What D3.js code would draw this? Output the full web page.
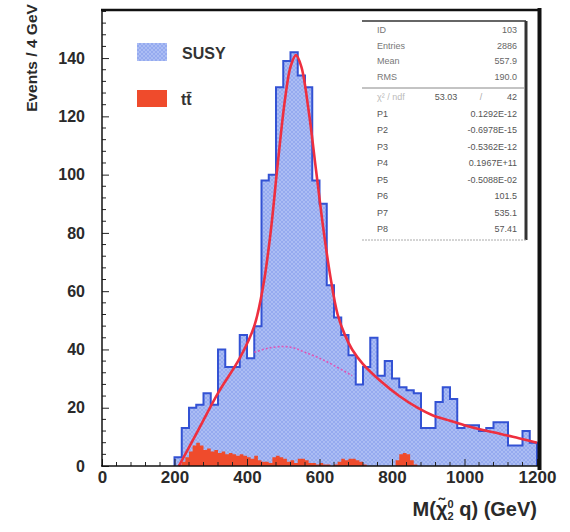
<!DOCTYPE html>
<html>
<head>
<meta charset="utf-8">
<script src="https://cdn.jsdelivr.net/npm/d3@7"></script>
<style>
  html, body { margin: 0; padding: 0; background: #ffffff; }
  svg { display: block; }
  text { font-family: "Liberation Sans", Arial, Helvetica, sans-serif; }
</style>
</head>
<body>
<svg id="chart" width="570" height="532"></svg>
<script>
// ---------------- data ----------------
// SUSY histogram: 20 GeV bins starting at 200 GeV
const susyBinStart = 200;
const susyBinWidth = 20;
const susyValues = [3, 13, 20, 21, 25, 21, 40, 34, 34, 45,
                    37, 48, 98, 100, 130, 139, 142, 134, 130, 98,
                    90, 62, 51, 45, 38, 28, 34, 44, 31, 36,
                    30, 27, 26, 25, 13, 13, 22, 27, 23, 13,
                    14, 14, 12, 13, 15, 15, 7, 7, 12, 8];
// ttbar histogram: 10 GeV bins starting at 200 GeV
const ttBinStart = 200;
const ttBinWidth = 10;
const ttValues = [0, 0.5, 1.5, 3, 5, 7, 8, 7, 5.5, 6,
                  5, 5.5, 4.5, 5, 4, 4.5, 4, 3.5, 4, 3.5,
                  3, 2.5, 3.5, 2, 1.5, 1.5, 1, 3, 3.5, 3,
                  2.5, 1.5, 2, 1, 2.5, 2.5, 2, 1, 1, 0.5,
                  1, 0.5, 0.5, 0, 0.5, 1.5, 2.5, 2, 2.5, 2.5,
                  2, 1.5, 0.5, 0, 0, 0, 0, 0, 0, 0,
                  0, 2, 4, 4.5, 4, 2, 0.5, 0];
// fit curve (total)
const fitX = [212, 260, 320, 380, 420, 445, 465, 485, 505, 520, 535, 550, 570, 590, 610, 630, 650, 670, 690, 720, 770, 820, 870, 910, 960, 1000, 1045, 1100, 1150, 1200];
const fitY = [0, 11, 25, 37, 48, 62, 80, 104, 126, 137, 141, 137, 122, 102, 82, 65, 52, 45, 40, 35, 29, 24, 20, 17.5, 15.5, 14, 12.5, 11, 9.5, 8];
// background component (dotted)
const bgX = [420, 460, 500, 530, 560, 600, 640, 690];
const bgY = [39, 40.5, 41, 40.5, 39, 37, 34.5, 31];

const xTicks = [0, 200, 400, 600, 800, 1000, 1200];
const yTicks = [0, 20, 40, 60, 80, 100, 120, 140];

const statLabels = ["ID", "Entries", "Mean", "RMS"];
const statValues = ["103", "2886", "557.9", "190.0"];
const chiLabel = "\u03C7\u00B2 / ndf";
const chiValues = ["53.03", "/", "42"];
const parLabels = ["P1", "P2", "P3", "P4", "P5", "P6", "P7", "P8"];
const parValues = ["0.1292E-12", "-0.6978E-15", "-0.5362E-12", "0.1967E+11", "-0.5088E-02", "101.5", "535.1", "57.41"];

const legendNames = ["SUSY", "tt\u0304"];

// ---------------- drawing ----------------
const svg = d3.select("#chart");
const x = d3.scaleLinear().domain([0, 1200]).range([102, 537]);
const y = d3.scaleLinear().domain([0, 156.5]).range([466, 10]);

const defs = svg.append("defs");
const pat = defs.append("pattern").attr("id", "hatch")
  .attr("patternUnits", "userSpaceOnUse").attr("width", 4).attr("height", 4);
pat.append("rect").attr("width", 4).attr("height", 4).attr("fill", "#abbdf4");
pat.append("path").attr("d", "M0,4 L4,0 M0,0 L4,4").attr("stroke", "#8fa5ee").attr("stroke-width", 0.8);

function stepPoints(start, width, vals) {
  const pts = [[start, 0]];
  vals.forEach((v, i) => {
    pts.push([start + i * width, v]);
    pts.push([start + (i + 1) * width, v]);
  });
  pts.push([start + vals.length * width, 0]);
  return pts;
}
const lineXY = d3.line().x(d => x(d[0])).y(d => y(d[1]));

const susyPts = stepPoints(susyBinStart, susyBinWidth, susyValues);
svg.append("path").attr("d", lineXY(susyPts) + "Z")
  .attr("fill", "url(#hatch)").attr("stroke", "none");

const ttPts = stepPoints(ttBinStart, ttBinWidth, ttValues);
svg.append("path").attr("d", lineXY(ttPts) + "Z")
  .attr("fill", "#ef4b2c").attr("stroke", "none");

svg.append("path").attr("d", lineXY(susyPts))
  .attr("fill", "none").attr("stroke", "#3352d4").attr("stroke-width", 2)
  .attr("stroke-linejoin", "miter");

const curve = d3.line().x(d => x(d[0])).y(d => y(d[1])).curve(d3.curveCatmullRom.alpha(0.5));
svg.append("path").attr("d", curve(bgX.map((v, i) => [v, bgY[i]])))
  .attr("fill", "none").attr("stroke", "#e055b5").attr("stroke-width", 1.6)
  .attr("stroke-dasharray", "2,2");

svg.append("path").attr("d", curve(fitX.map((v, i) => [v, fitY[i]])))
  .attr("fill", "none").attr("stroke", "#ee2f3f").attr("stroke-width", 2.6);

// axes
const yAxis = d3.axisLeft(y).tickValues(yTicks).tickSize(-7).tickPadding(17).tickFormat(d3.format("d"));
const gy = svg.append("g").attr("transform", "translate(102,0)").call(yAxis);
const xAxis = d3.axisBottom(x).tickValues(xTicks).tickSize(-7).tickPadding(5).tickFormat(d3.format("d"));
const gx = svg.append("g").attr("transform", "translate(0,466)").call(xAxis);
[gy, gx].forEach(g => {
  g.select(".domain").remove();
  g.selectAll("line").attr("stroke", "#222");
  g.selectAll("text").attr("font-weight", "bold").attr("fill", "#2a2a2a");
});
gy.selectAll("text").attr("font-size", 16);
gx.selectAll("text").attr("font-size", 17);

const yMinor = d3.range(0, 157, 4).filter(v => v % 20 !== 0);
svg.append("g").selectAll("line").data(yMinor).join("line")
  .attr("x1", 102).attr("x2", 106).attr("y1", d => y(d)).attr("y2", d => y(d))
  .attr("stroke", "#222").attr("stroke-width", 1);
const xMinor = d3.range(0, 1201, 40).filter(v => v % 200 !== 0);
svg.append("g").selectAll("line").data(xMinor).join("line")
  .attr("x1", d => x(d)).attr("x2", d => x(d)).attr("y1", 466).attr("y2", 462)
  .attr("stroke", "#222").attr("stroke-width", 1);

// frame
svg.append("line").attr("x1", 102).attr("x2", 102).attr("y1", 9).attr("y2", 466).attr("stroke", "#111").attr("stroke-width", 1.5);
svg.append("line").attr("x1", 101).attr("x2", 540).attr("y1", 466).attr("y2", 466).attr("stroke", "#111").attr("stroke-width", 1.5);
svg.append("line").attr("x1", 101).attr("x2", 541).attr("y1", 10).attr("y2", 10).attr("stroke", "#111").attr("stroke-width", 2.5);
svg.append("line").attr("x1", 539.5).attr("x2", 539.5).attr("y1", 8).attr("y2", 470).attr("stroke", "#111").attr("stroke-width", 4);

// axis titles
svg.append("text").attr("transform", "translate(37,58) rotate(-90)")
  .attr("text-anchor", "middle").attr("font-size", 15.5).attr("font-weight", "bold")
  .attr("fill", "#2a2a2a").text("Events / 4 GeV");

const xt = svg.append("text").attr("x", 537).attr("y", 516).attr("text-anchor", "end")
  .attr("font-size", 20).attr("font-weight", "bold").attr("fill", "#2a2a2a");
xt.append("tspan").text("M(\u03C7\u0303");
xt.append("tspan").attr("font-size", 11).attr("dy", -8).text("0");
xt.append("tspan").attr("font-size", 11).attr("dx", -6).attr("dy", 12).text("2");
xt.append("tspan").attr("dy", -4).text(" q) (GeV)");

// stats box
const bx0 = 362, bx1 = 526, by0 = 21, by1 = 240;
svg.append("rect").attr("x", bx0).attr("y", by0).attr("width", bx1 - bx0).attr("height", by1 - by0)
  .attr("fill", "#ffffff").attr("stroke", "none");
svg.append("line").attr("x1", bx0).attr("x2", bx1).attr("y1", by0).attr("y2", by0).attr("stroke", "#333").attr("stroke-width", 1.5);
svg.append("line").attr("x1", bx1).attr("x2", bx1).attr("y1", by0).attr("y2", by1).attr("stroke", "#333").attr("stroke-width", 3);
svg.append("line").attr("x1", bx0).attr("x2", bx1).attr("y1", by1).attr("y2", by1).attr("stroke", "#aaa").attr("stroke-width", 1).attr("stroke-dasharray", "2,1");
svg.append("line").attr("x1", bx0).attr("x2", bx1 - 2).attr("y1", 88).attr("y2", 88).attr("stroke", "#888").attr("stroke-width", 1);

const sg = svg.append("g").attr("font-size", 9).attr("fill", "#555");
statLabels.forEach((t, i) => {
  const yy = 33 + i * 15.5;
  sg.append("text").attr("x", 377).attr("y", yy).attr("fill", "#777").text(t);
  sg.append("text").attr("x", 517).attr("y", yy).attr("text-anchor", "end").attr("fill", "#666").text(statValues[i]);
});
sg.append("text").attr("x", 377).attr("y", 100).attr("fill", "#bbb").text(chiLabel);
sg.append("text").attr("x", 446).attr("y", 100).attr("text-anchor", "middle").text(chiValues[0]);
sg.append("text").attr("x", 481).attr("y", 100).attr("text-anchor", "middle").attr("fill", "#aaa").text(chiValues[1]);
sg.append("text").attr("x", 517).attr("y", 100).attr("text-anchor", "end").text(chiValues[2]);
parLabels.forEach((t, i) => {
  const yy = 116.5 + i * 16.5;
  sg.append("text").attr("x", 377).attr("y", yy).text(t);
  sg.append("text").attr("x", 517).attr("y", yy).attr("text-anchor", "end").text(parValues[i]);
});

// legend
svg.append("rect").attr("x", 137).attr("y", 43).attr("width", 30).attr("height", 18).attr("fill", "url(#hatch)");
svg.append("rect").attr("x", 137).attr("y", 90).attr("width", 30).attr("height", 17).attr("fill", "#ef4b2c");
svg.append("text").attr("x", 182).attr("y", 59).attr("font-size", 16).attr("font-weight", "bold").attr("fill", "#333").text(legendNames[0]);
svg.append("text").attr("x", 181).attr("y", 105).attr("font-size", 16).attr("font-weight", "bold").attr("fill", "#333").text(legendNames[1]);
</script>
</body>
</html>
